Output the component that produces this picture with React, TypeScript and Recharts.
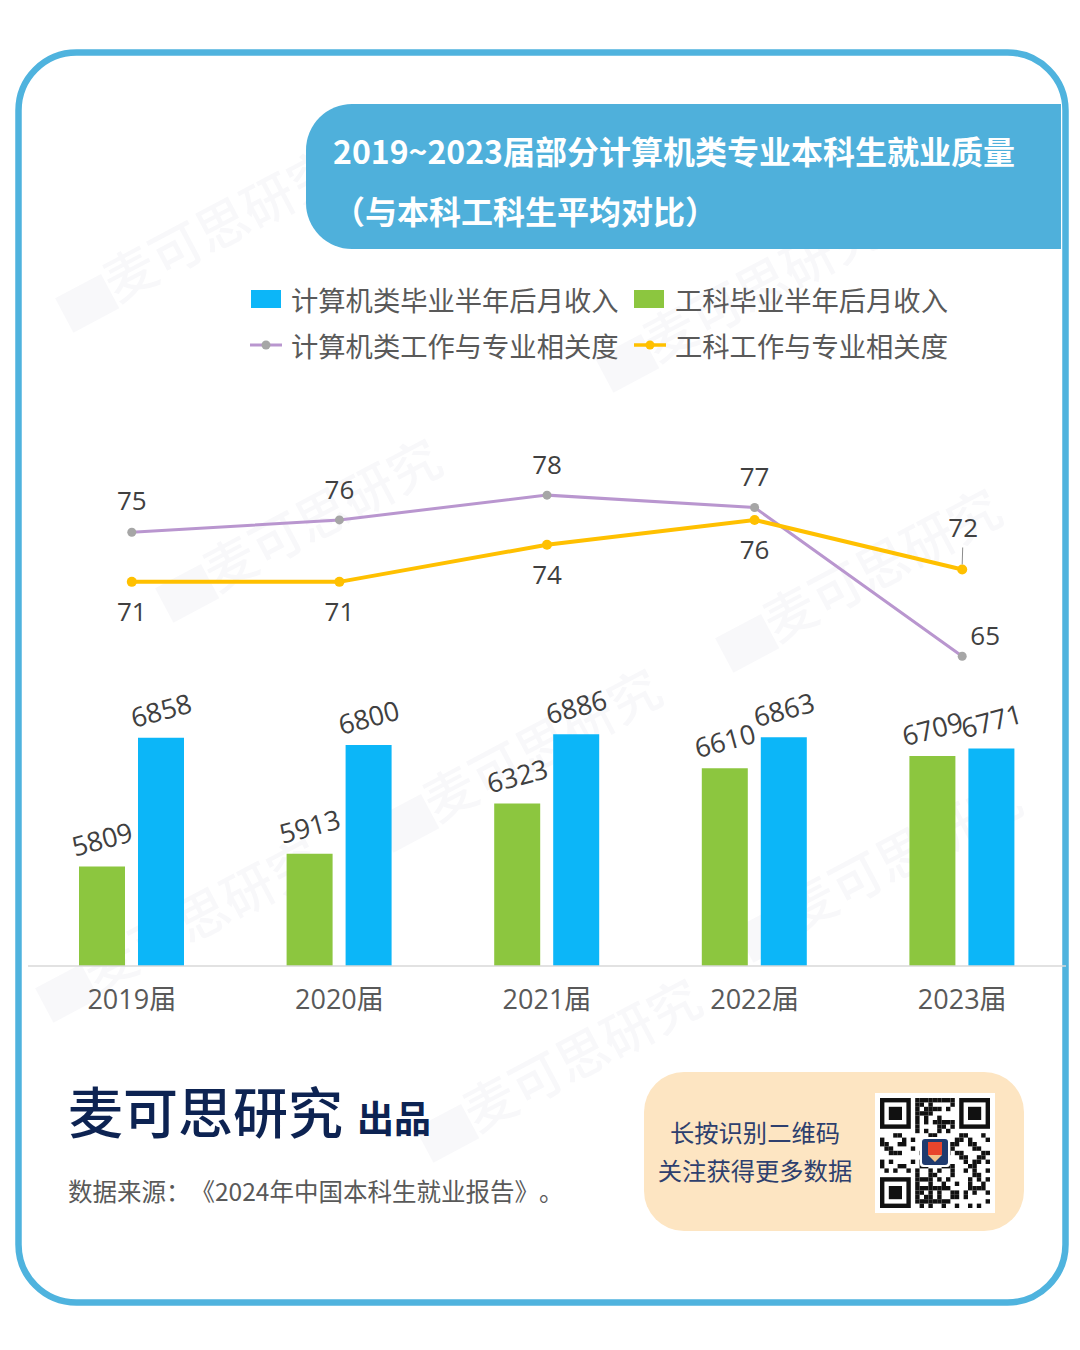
import React from 'react';
import { ComposedChart, Bar, Line, XAxis, YAxis, LabelList } from 'recharts';

// ---------- data ----------
const categories = ['2019届', '2020届', '2021届', '2022届', '2023届'];
const csIncome = [6858, 6800, 6886, 6863, 6771];
const engIncome = [5809, 5913, 6323, 6610, 6709];
const csRelevance = [75, 76, 78, 77, 65];
const engRelevance = [71, 71, 74, 76, 72];
const legendLabels = ['计算机类毕业半年后月收入', '工科毕业半年后月收入', '计算机类工作与专业相关度', '工科工作与专业相关度'];
const titleLines = ['2019~2023届部分计算机类专业本科生就业质量', '（与本科工科生平均对比）'];
const brand = '麦可思研究';
const brandSuffix = '出品';
const sourceText = '数据来源：《2024年中国本科生就业报告》。';
const qrLines = ['长按识别二维码', '关注获得更多数据'];

const data = categories.map((name, i) => ({
  name,
  cs: csIncome[i],
  eng: engIncome[i],
  csRel: csRelevance[i],
  engRel: engRelevance[i],
}));

// ---------- styles ----------
const FONT = '"Open Sans", "Noto Sans CJK SC", sans-serif';
const CJK = '"Noto Sans CJK SC", "Open Sans", sans-serif';
const BLUE = '#0cb6f8';
const GREEN = '#8cc63f';
const PURPLE = '#b996cf';
const YELLOW = '#ffc000';
const LABEL = '#404040';
const FRAME = '#4fb3de';

const csLabelOffsets = [[0, -32], [0, -31], [0, -31], [0, -32], [23, -21]];
const engLabelOffsets = [[0, 29], [0, 29], [0, 29], [0, 29], [1, -42]];

const BarLabel = (props: any) => {
  const { x, y, width, value } = props;
  const cx = Number(x) + Number(width) / 2;
  const cy = Number(y) - 28;
  return (
    <text x={cx} y={cy} transform={`rotate(-15 ${cx} ${cy})`} textAnchor="middle" dominantBaseline="central"
      fontSize={27} fill={LABEL} fontFamily={FONT}>{value}</text>
  );
};

const makeLineLabel = (offsets: number[][], leaderIndex: number) => (props: any) => {
  const { x, y, value, index } = props;
  const [dx, dy] = offsets[index] || [0, -30];
  const px = Number(x);
  const py = Number(y);
  return (
    <g>
      {index === leaderIndex && (
        <line x1={px + 0.5} y1={py - 22} x2={px} y2={py - 5} stroke="#8c8c8c" strokeWidth={1} />
      )}
      <text x={px + dx} y={py + dy} textAnchor="middle" dominantBaseline="central" fontSize={26}
        fill={LABEL} fontFamily={FONT}>{value}</text>
    </g>
  );
};

const CsLineLabel = makeLineLabel(csLabelOffsets, -1);
const EngLineLabel = makeLineLabel(engLabelOffsets, 4);

const QRCode = () => {
  const n = 25;
  const cell = 4.4;
  const cells: React.ReactNode[] = [];
  const inFinder = (i: number, j: number) =>
    (i < 8 && j < 8) || (i < 8 && j >= n - 8) || (i >= n - 8 && j < 8);
  for (let i = 0; i < n; i++) {
    for (let j = 0; j < n; j++) {
      if (inFinder(i, j)) continue;
      const h = (i * 31 + j * 17 + i * j * 7 + (i ^ j) * 3) % 5;
      if (h < 2) cells.push(<rect key={`${i}-${j}`} x={5 + j * cell} y={5 + i * cell} width={cell} height={cell} fill="#111" />);
    }
  }
  const finder = (fx: number, fy: number, k: string) => (
    <g key={k}>
      <rect x={fx} y={fy} width={7 * cell} height={7 * cell} fill="#111" />
      <rect x={fx + cell} y={fy + cell} width={5 * cell} height={5 * cell} fill="#fff" />
      <rect x={fx + 2 * cell} y={fy + 2 * cell} width={3 * cell} height={3 * cell} fill="#111" />
    </g>
  );
  return (
    <svg width={120} height={120} style={{ position: 'absolute', left: 875, top: 1093 }}>
      <rect x={0} y={0} width={120} height={120} fill="#fff" />
      {cells}
      {finder(5, 5, 'a')}
      {finder(5 + 18 * cell, 5, 'b')}
      {finder(5, 5 + 18 * cell, 'c')}
      <rect x={45} y={44} width={30} height={30} rx={3} fill="#fff" />
      <rect x={47} y={46} width={26} height={26} rx={3} fill="#1f3a6e" />
      <rect x={53} y={49} width={14} height={13} fill="#e8452c" />
      <path d="M53 62 L67 62 L60 69 Z" fill="#f3c48a" />
    </svg>
  );
};

const watermarks = [
  [60, 270], [600, 330], [160, 560], [720, 610], [380, 790], [740, 900], [420, 1100], [40, 960],
];

export default function App() {
  return (
    <div style={{ position: 'absolute', left: 0, top: 0, width: 1080, height: 1350, background: '#fff', overflow: 'hidden', fontFamily: CJK, textSpacingTrim: 'space-all' } as any}>
      {/* faint watermarks */}
      {watermarks.map(([wx, wy], i) => (
        <div key={i} style={{ position: 'absolute', left: wx, top: wy, fontSize: 52, color: 'rgba(30,40,80,0.03)', transform: 'rotate(-28deg)', transformOrigin: 'left center', whiteSpace: 'nowrap', fontWeight: 500 }}>
          ▆{brand}
        </div>
      ))}

      {/* frame */}
      <svg width={1080} height={1350} style={{ position: 'absolute', left: 0, top: 0 }}>
        <rect x={18.5} y={52.5} width={1047} height={1250} rx={58} ry={58} fill="none" stroke={FRAME} strokeWidth={6.5} />
      </svg>

      {/* title banner */}
      <div style={{ position: 'absolute', left: 306, top: 104, width: 755, height: 145, background: '#4fb0db', borderRadius: '46px 0 0 46px' }} />
      <div style={{ position: 'absolute', left: 333, top: 127, fontSize: 32, lineHeight: '46px', fontWeight: 700, color: '#fff', fontFamily: CJK, whiteSpace: 'nowrap' }}>
        {titleLines[0]}
      </div>
      <div style={{ position: 'absolute', left: 333, top: 187, fontSize: 32, lineHeight: '46px', fontWeight: 700, color: '#fff', fontFamily: CJK, whiteSpace: 'nowrap' }}>
        {titleLines[1]}
      </div>

      {/* legend */}
      <div style={{ position: 'absolute', left: 251, top: 290, width: 30, height: 18, background: BLUE }} />
      <div style={{ position: 'absolute', left: 291, top: 280, fontSize: 27.3, lineHeight: '38px', color: '#595959', whiteSpace: 'nowrap' }}>{legendLabels[0]}</div>
      <div style={{ position: 'absolute', left: 634, top: 290, width: 30, height: 18, background: GREEN }} />
      <div style={{ position: 'absolute', left: 675, top: 280, fontSize: 27.3, lineHeight: '38px', color: '#595959', whiteSpace: 'nowrap' }}>{legendLabels[1]}</div>
      <svg width={40} height={20} style={{ position: 'absolute', left: 248, top: 335 }}>
        <line x1={2} y1={10} x2={34} y2={10} stroke={PURPLE} strokeWidth={3} />
        <circle cx={18} cy={10} r={4.5} fill="#a6a6a6" />
      </svg>
      <div style={{ position: 'absolute', left: 291, top: 326, fontSize: 27.3, lineHeight: '38px', color: '#595959', whiteSpace: 'nowrap' }}>{legendLabels[2]}</div>
      <svg width={40} height={20} style={{ position: 'absolute', left: 632, top: 335 }}>
        <line x1={2} y1={10} x2={34} y2={10} stroke={YELLOW} strokeWidth={3.5} />
        <circle cx={18} cy={10} r={4.5} fill={YELLOW} />
      </svg>
      <div style={{ position: 'absolute', left: 675, top: 326, fontSize: 27.3, lineHeight: '38px', color: '#595959', whiteSpace: 'nowrap' }}>{legendLabels[3]}</div>

      {/* chart */}
      <div style={{ position: 'absolute', left: 28, top: 396 }}>
        <ComposedChart width={1038} height={630} data={data} margin={{ top: 0, right: 0, bottom: 0, left: 0 }} barGap={13} barSize={46}>
          <XAxis dataKey="name" height={60} axisLine={{ stroke: '#d9d9d9', strokeWidth: 1.5 }} tickLine={false}
            tick={{ fill: '#595959', fontSize: 27, fontFamily: FONT }} tickMargin={18} interval={0} />
          <YAxis yAxisId="bar" hide type="number" domain={[5000, 9640]} allowDataOverflow />
          <YAxis yAxisId="line" hide type="number" orientation="right" domain={[40, 86]} allowDataOverflow />
          <Bar yAxisId="bar" dataKey="eng" fill={GREEN} isAnimationActive={false}>
            <LabelList dataKey="eng" content={BarLabel} />
          </Bar>
          <Bar yAxisId="bar" dataKey="cs" fill={BLUE} isAnimationActive={false}>
            <LabelList dataKey="cs" content={BarLabel} />
          </Bar>
          <Line yAxisId="line" type="linear" dataKey="csRel" stroke={PURPLE} strokeWidth={3}
            dot={{ r: 4.5, fill: '#a6a6a6', stroke: 'none' }} activeDot={false} isAnimationActive={false}>
            <LabelList dataKey="csRel" content={CsLineLabel} />
          </Line>
          <Line yAxisId="line" type="linear" dataKey="engRel" stroke={YELLOW} strokeWidth={4}
            dot={{ r: 5, fill: YELLOW, stroke: 'none' }} activeDot={false} isAnimationActive={false}>
            <LabelList dataKey="engRel" content={EngLineLabel} />
          </Line>
        </ComposedChart>
      </div>

      {/* footer */}
      <div style={{ position: 'absolute', left: 68, top: 1077, fontSize: 55, lineHeight: '64px', color: '#0d2352', fontWeight: 500, whiteSpace: 'nowrap' }}>
        {brand}
        <span style={{ fontSize: 37, fontWeight: 700, marginLeft: 14 }}>{brandSuffix}</span>
      </div>
      <div style={{ position: 'absolute', left: 68, top: 1173, fontSize: 24.5, lineHeight: '36px', color: '#595959', whiteSpace: 'nowrap', textSpacingTrim: 'space-all' } as any}>
        {sourceText}
      </div>

      <div style={{ position: 'absolute', left: 644, top: 1072, width: 380, height: 159, background: '#fde5c2', borderRadius: 40 }} />
      <div style={{ position: 'absolute', left: 644, top: 1113, width: 222, textAlign: 'center', fontSize: 24.3, lineHeight: '38px', color: '#2e3f6e', whiteSpace: 'nowrap' }}>
        {qrLines[0]}<br />{qrLines[1]}
      </div>
      <QRCode />
    </div>
  );
}
